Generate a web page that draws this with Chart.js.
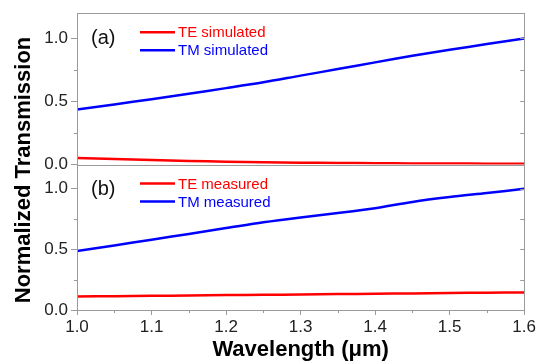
<!DOCTYPE html>
<html>
<head>
<meta charset="utf-8">
<script src="https://cdn.jsdelivr.net/npm/chart.js@4"></script>
<style>
  html, body { margin: 0; padding: 0; background: #fff; }
  canvas { display: block; }
</style>
</head>
<body>
<canvas id="chart" width="538" height="361"></canvas>
<script>
// wavelength in micrometres
const wavelength = [1.00, 1.05, 1.10, 1.15, 1.20, 1.25, 1.30, 1.35, 1.40, 1.45, 1.50, 1.55, 1.60];

// (a) simulated
const teSimulated = [0.053, 0.044, 0.036, 0.029, 0.023, 0.018, 0.015, 0.013, 0.011, 0.009, 0.008, 0.007, 0.006];
const tmSimulated = [0.436, 0.477, 0.518, 0.562, 0.606, 0.652, 0.705, 0.757, 0.810, 0.862, 0.910, 0.955, 1.000];

// (b) measured
const teMeasured = [0.112, 0.114, 0.117, 0.120, 0.123, 0.125, 0.128, 0.131, 0.134, 0.137, 0.140, 0.143, 0.145];
const tmMeasured = [0.487, 0.533, 0.580, 0.628, 0.676, 0.724, 0.764, 0.800, 0.840, 0.892, 0.932, 0.965, 1.000];

const xTicks = [1.0, 1.1, 1.2, 1.3, 1.4, 1.5, 1.6];
const yTicks = [0.0, 0.5, 1.0];

const panels = [
    { axis: 'yA', tag: '(a)' },
    { axis: 'yB', tag: '(b)' }
];

const RED = '#ff0000';
const BLUE = '#0000ff';
const FRAME = '#9a9a9a';
const FONT = "'Liberation Sans', Arial, sans-serif";

function series(ys) {
    return ys.map((y, i) => ({ x: wavelength[i], y: y }));
}

function lineSet(label, ys, color, axis) {
    return {
        label: label,
        data: series(ys),
        yAxisID: axis,
        borderColor: color,
        backgroundColor: color,
        borderWidth: 2.5,
        pointRadius: 0,
        tension: 0.3,
        fill: false
    };
}

function yScale(weight) {
    return {
        type: 'linear',
        position: 'left',
        stack: 'panels',
        stackWeight: weight,
        min: 0,
        max: 1.2,
        afterBuildTicks: s => { s.ticks = yTicks.map(v => ({ value: v })); },
        afterFit: s => { s.width = 40; },
        ticks: {
            padding: 3,
            color: '#222',
            font: { family: FONT, size: 17 },
            callback: v => v.toFixed(1)
        },
        grid: { drawOnChartArea: false, tickLength: 6, color: FRAME },
        border: { color: FRAME }
    };
}

// minor values halfway between the major ticks of a scale
function minors(scale) {
    const out = [];
    for (let i = 0; i < scale.ticks.length - 1; i++) {
        out.push((scale.ticks[i].value + scale.ticks[i + 1].value) / 2);
    }
    return out;
}

const frameAndLabels = {
    id: 'frameAndLabels',
    afterDraw(chart) {
        const { ctx, chartArea: a, scales } = chart;
        const px = v => Math.round(v) + 0.5;
        ctx.save();
        ctx.strokeStyle = FRAME;
        ctx.lineWidth = 1;

        // box around both panels and the divider
        ctx.strokeRect(px(a.left), px(a.top), Math.round(a.right) - Math.round(a.left), Math.round(a.bottom) - Math.round(a.top));
        ctx.beginPath();
        ctx.moveTo(a.left, px(scales.yA.bottom));
        ctx.lineTo(a.right, px(scales.yA.bottom));

        // y ticks: minor outward on the left, all inward on the right
        panels.forEach(p => {
            const s = scales[p.axis];
            minors(s).forEach(v => {
                const y = px(s.getPixelForValue(v));
                ctx.moveTo(a.left - 3, y);
                ctx.lineTo(a.left, y);
            });
            s.ticks.map(t => t.value).concat(minors(s)).forEach(v => {
                const y = px(s.getPixelForValue(v));
                ctx.moveTo(a.right, y);
                ctx.lineTo(a.right - 4, y);
            });
        });

        // x minor ticks
        minors(scales.x).forEach(v => {
            const x = px(scales.x.getPixelForValue(v));
            ctx.moveTo(x, a.bottom);
            ctx.lineTo(x, a.bottom + 3);
        });
        ctx.stroke();

        // panel tags and in-panel legends
        panels.forEach(p => {
            const s = scales[p.axis];
            ctx.fillStyle = '#111';
            ctx.font = '20px ' + FONT;
            ctx.textBaseline = 'middle';
            ctx.textAlign = 'left';
            ctx.fillText(p.tag, a.left + 14, s.top + 25);

            const sets = chart.data.datasets.filter(d => d.yAxisID === p.axis);
            ctx.font = '15px ' + FONT;
            sets.forEach((d, i) => {
                const y = s.top + 19 + i * 18;
                ctx.strokeStyle = d.borderColor;
                ctx.lineWidth = 2.5;
                ctx.beginPath();
                ctx.moveTo(a.left + 63, y);
                ctx.lineTo(a.left + 98, y);
                ctx.stroke();
                ctx.fillStyle = d.borderColor;
                ctx.fillText(d.label, a.left + 101, y + 1);
            });
        });

        // shared y title
        ctx.translate(24, 170);
        ctx.rotate(-Math.PI / 2);
        ctx.fillStyle = '#000';
        ctx.font = 'bold 22px ' + FONT;
        ctx.textAlign = 'center';
        ctx.textBaseline = 'middle';
        ctx.fillText('Normalized Transmission', 0, 0);
        ctx.restore();
    }
};

new Chart(document.getElementById('chart'), {
    type: 'line',
    data: {
        datasets: [
            lineSet('TE simulated', teSimulated, RED, 'yA'),
            lineSet('TM simulated', tmSimulated, BLUE, 'yA'),
            lineSet('TE measured', teMeasured, RED, 'yB'),
            lineSet('TM measured', tmMeasured, BLUE, 'yB')
        ]
    },
    options: {
        responsive: false,
        devicePixelRatio: 1,
        animation: false,
        layout: { padding: { left: 37, right: 13, top: 10, bottom: 0 } },
        plugins: {
            legend: { display: false },
            tooltip: { enabled: false }
        },
        scales: {
            x: {
                type: 'linear',
                min: 1.0,
                max: 1.6,
                afterBuildTicks: s => { s.ticks = xTicks.map(v => ({ value: v })); },
                afterFit: s => { s.height = 51; },
                ticks: {
                    padding: 2,
                    color: '#222',
                    font: { family: FONT, size: 17 },
                    callback: v => v.toFixed(1)
                },
                grid: { drawOnChartArea: false, tickLength: 5, color: FRAME },
                border: { color: FRAME },
                title: {
                    display: true,
                    text: 'Wavelength (\u03bcm)',
                    color: '#000',
                    font: { family: FONT, size: 22, weight: 'bold', lineHeight: 1 },
                    padding: { top: 0, bottom: 0 }
                }
            },
            yB: yScale(147),
            yA: yScale(153)
        }
    },
    plugins: [frameAndLabels]
});
</script>
</body>
</html>
